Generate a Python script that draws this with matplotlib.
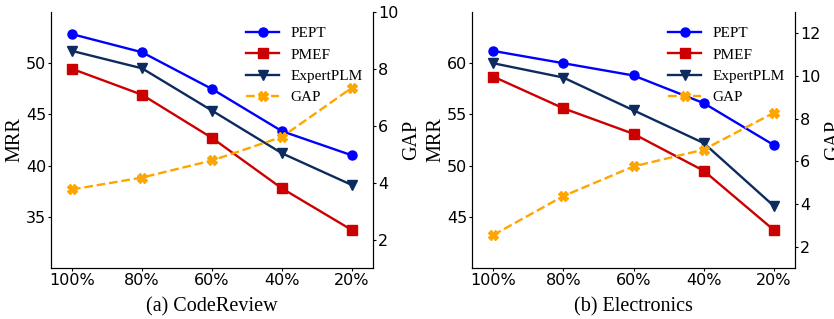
import matplotlib
matplotlib.use("Agg")
import matplotlib.pyplot as plt

ratios = ["100%", "80%", "60%", "40%", "20%"]

cr_pept = [52.84, 51.07, 47.48, 43.36, 41.0]
cr_pmef = [49.45, 46.92, 42.7, 37.77, 33.7]
cr_expert = [51.2, 49.5, 45.37, 41.2, 38.1]
cr_gap = [3.76, 4.18, 4.78, 5.61, 7.34]

el_pept = [61.2, 60.0, 58.8, 56.1, 52.0]
el_pmef = [58.7, 55.6, 53.1, 49.5, 43.7]
el_expert = [60.0, 58.6, 55.4, 52.2, 46.05]
el_gap = [2.54, 4.37, 5.76, 6.55, 8.28]

serif = "Liberation Serif"

fig = plt.figure(figsize=[8.34, 3.19], dpi=100)
W, H = 834., 319.

panels = [
    (51, 373, cr_pept, cr_pmef, cr_expert, cr_gap, (30, 55), [35, 40, 45, 50], (1, 10), [2, 4, 6, 8, 10], "(a) CodeReview"),
    (472, 795, el_pept, el_pmef, el_expert, el_gap, (40, 65), [45, 50, 55, 60], (1, 13), [2, 4, 6, 8, 10, 12], "(b) Electronics"),
]

for x0, x1, pept, pmef, expert, gap, ylim, yticks, glim, gticks, title in panels:
    ax = fig.add_axes([x0/W, 1-268/H, (x1-x0)/W, 256/H])
    ax2 = ax.twinx()

    xx = range(len(ratios))
    l1, = ax.plot(xx, pept, "-o", color="#0000ff", lw=1.7, ms=6.5, label="PEPT")
    l2, = ax.plot(xx, pmef, "-s", color="#cc0000", lw=1.7, ms=6.5, label="PMEF")
    l3, = ax.plot(xx, expert, "-v", color="#0d2b5e", lw=1.7, ms=6.5, label="ExpertPLM")
    l4, = ax2.plot(xx, gap, "--X", color="#ffa500", lw=1.7, ms=6.5, label="GAP")

    ax.set_xlim(-0.3, 4.3)
    ax.set_ylim(*ylim)
    ax.set_yticks(yticks)
    ax2.set_ylim(*glim)
    ax2.set_yticks(gticks)
    ax.set_xticks(list(xx))
    ax.set_xticklabels(ratios)

    for a in (ax, ax2):
        a.tick_params(labelsize=11.5, length=2, pad=1.5)
        a.spines["top"].set_visible(False)

    ax.set_ylabel("MRR", family=serif, fontsize=14.5, labelpad=1)
    ax2.set_ylabel("GAP", family=serif, fontsize=14.5, labelpad=3)
    ax.set_xlabel(title, family=serif, fontsize=14.5, labelpad=7)

    ax.legend(handles=[l1, l2, l3, l4], loc="upper right", frameon=False,
              prop={"family": serif, "size": 11}, handlelength=2.2,
              handletextpad=0.7, bbox_to_anchor=(1.0, 0.984),
              borderaxespad=0.3, labelspacing=0.5)

fig.savefig("out.png", dpi=100)
